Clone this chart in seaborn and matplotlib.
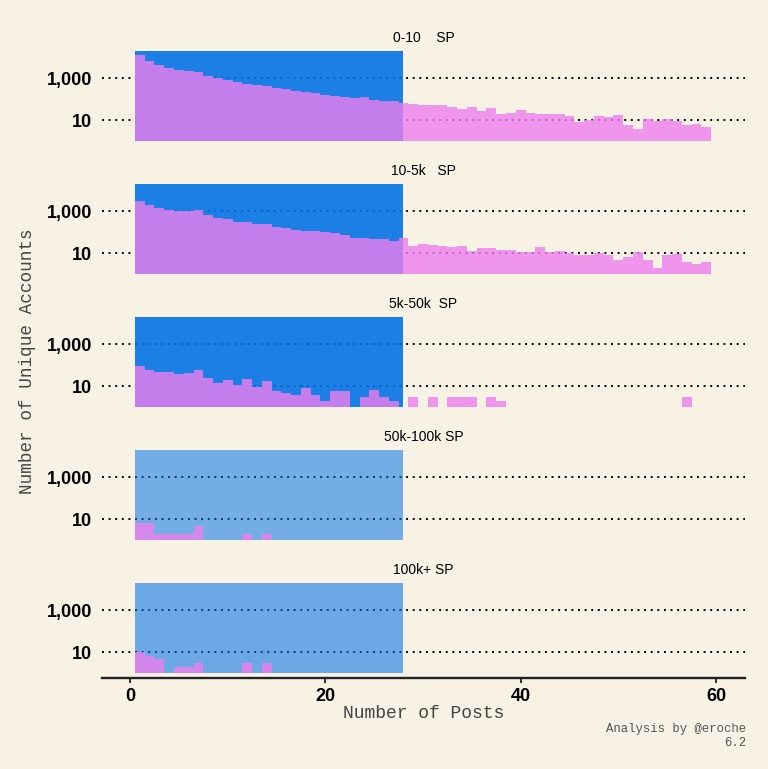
import numpy as np
import matplotlib.pyplot as plt
import seaborn as sns
from matplotlib.ticker import NullLocator

# Cuentas únicas por número de publicaciones, un panel por rango de SP.
posts_0_10 = list(range(1, 60))
cuentas_0_10 = [13000, 7200, 4300, 3200, 2600, 2300, 2000, 1300, 1040, 830,
                670, 540, 480, 415, 360, 310, 240, 215, 193, 167,
                144, 130, 112, 134, 96, 80, 83, 67, 60, 54,
                52, 52, 42, 33, 43, 28, 40, 21, 22, 30,
                23, 20, 21, 19, 16, 8, 10, 16, 14, 18,
                6, 4, 12, 9, 12, 9, 6, 7, 5]

posts_10_5k = list(range(1, 60))
cuentas_10_5k = [3100, 2000, 1500, 1200, 1040, 1040, 1200, 645, 500, 415,
                 300, 310, 250, 250, 173, 155, 134, 116, 112, 104,
                 89, 77, 54, 54, 48, 50, 37, 56, 22, 29,
                 25, 23, 20, 23, 13, 17, 17, 15, 15, 11,
                 12, 19, 12, 13, 10, 8, 8, 10, 8, 5,
                 7, 12, 5, 2, 8, 9, 4, 3, 4]

posts_5k_50k = list(range(1, 29)) + [29, 31, 33, 34, 35, 37, 38, 57]
cuentas_5k_50k = [91, 59, 47, 50, 38, 41, 61, 26, 15, 21,
                  11, 22, 9, 17, 6, 5, 4, 8, 4, 2,
                  6, 6, 1, 3, 7, 3, 2, 1,
                  3, 3, 3, 3, 3, 3, 2, 3]

posts_50k_100k = [1, 2, 3, 4, 5, 6, 7, 12, 14]
cuentas_50k_100k = [7, 7, 2, 2, 2, 2, 5, 2, 2]

posts_100k = [1, 2, 3, 4, 5, 6, 7, 12, 14]
cuentas_100k = [10, 7, 5, 1, 2, 2, 3, 3, 3]

grupos = ['0-10    SP', '10-5k   SP', '5k-50k  SP', '50k-100k SP', '100k+ SP']
datos = [(posts_0_10, cuentas_0_10), (posts_10_5k, cuentas_10_5k),
         (posts_5k_50k, cuentas_5k_50k), (posts_50k_100k, cuentas_50k_100k),
         (posts_100k, cuentas_100k)]

# Ventana sombreada en azul (primeros 28 posts) y su opacidad en cada panel
ventana = (0.5, 28)
alfa_azul = [0.89, 0.89, 0.89, 0.53, 0.57]

fondo = '#f8f2e5'
azul = '#0071e6'
rosa = '#ef7eee'

sns.set_theme(style='white', rc={'axes.facecolor': fondo, 'figure.facecolor': fondo})
plt.rcParams['font.family'] = ['Liberation Sans', 'DejaVu Sans']

W, H = 768, 769
fig = plt.figure(figsize=(W / 100, H / 100), dpi=100)

izq, ancho = 102 / W, 643 / W
alto_px = 90.5

for i, (grupo, (x, y)) in enumerate(zip(grupos, datos)):
    arriba = 50.7 + 133 * i
    ax = fig.add_axes([izq, 1 - (arriba + alto_px) / H, ancho, alto_px / H])
    ax.set_facecolor(fondo)
    ax.set_yscale('log')

    for g in [10, 1000]:
        ax.axhline(g, color='black', lw=1.4, ls=(0, (1, 2.4)), zorder=0.5)

    ax.axvspan(*ventana, color=azul, alpha=alfa_azul[i], lw=0, zorder=1)
    ax.bar(x, y, width=1.0, color=rosa, alpha=0.8, lw=0, zorder=2)

    ax.set_ylim(1, 10 ** 4.33)
    ax.set_xlim(-2.87, 62.97)
    ax.set_yticks([10, 1000])
    ax.set_yticklabels(['10', '1,000'])
    ax.yaxis.set_minor_locator(NullLocator())
    ax.tick_params(axis='y', length=0, pad=7, labelsize=13)
    for lbl in ax.get_yticklabels():
        lbl.set_fontweight('bold')
        lbl.set_color('black')

    ax.set_title(grupo, fontsize=10, pad=6, color='black')

    for lado in ['top', 'right', 'left', 'bottom']:
        ax.spines[lado].set_visible(False)

    if i == len(grupos) - 1:
        ax.spines['bottom'].set_visible(True)
        ax.spines['bottom'].set_position(('outward', 3.2))
        ax.spines['bottom'].set_linewidth(1.7)
        ax.spines['bottom'].set_color('#222222')
        ax.set_xticks([0, 20, 40, 60])
        ax.tick_params(axis='x', bottom=True, length=3.5, width=1.3,
                       color='#222222', pad=4, labelsize=13)
        for lbl in ax.get_xticklabels():
            lbl.set_fontweight('bold')
            lbl.set_color('black')
    else:
        ax.set_xticks([])

mono = ['Liberation Mono', 'DejaVu Sans Mono']
fig.text(28 / W, 1 - 361.5 / H, 'Number of Unique Accounts', rotation=90,
         ha='center', va='center', family=mono, fontsize=12.7, color='#444444')
fig.text(423.5 / W, 1 - 713 / H, 'Number of Posts', ha='center', va='center',
         family=mono, fontsize=13, color='#444444')
fig.text(746 / W, 1 - 736 / H, 'Analysis by @eroche\n6.2', ha='right', va='center',
         family=mono, fontsize=8.8, color='#555555', linespacing=1.15)

plt.savefig('out.png', dpi=100, facecolor=fondo)
plt.close()
